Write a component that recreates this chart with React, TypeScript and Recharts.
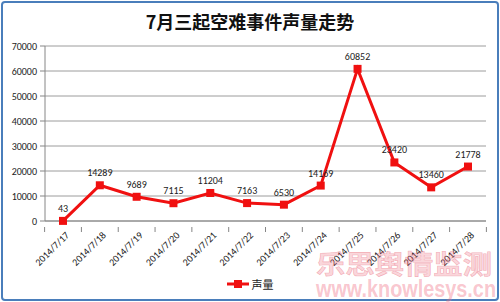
import { LineChart, Line, XAxis, YAxis, CartesianGrid, LabelList } from 'recharts';

const dates = [
  '2014/7/17', '2014/7/18', '2014/7/19', '2014/7/20', '2014/7/21', '2014/7/22',
  '2014/7/23', '2014/7/24', '2014/7/25', '2014/7/26', '2014/7/27', '2014/7/28',
];
const volume = [43, 14289, 9689, 7115, 11204, 7163, 6530, 14169, 60852, 23420, 13460, 21778];
const yTicks = [0, 10000, 20000, 30000, 40000, 50000, 60000, 70000];

const data = dates.map((d, i) => ({ date: d, value: volume[i] }));

const RED = '#f01010';
const AXIS = '#868686';
const font = 'Calibri, Carlito, "Liberation Sans", "Noto Sans CJK SC", sans-serif';
const HALF_BAND = 18.4;

const DateTick = (props: any) => {
  const { x, y, payload, index } = props;
  return (
    <g>
      <line x1={x - HALF_BAND} y1={y - 2} x2={x - HALF_BAND} y2={y + 3} stroke={AXIS} />
      {index === dates.length - 1 && (
        <line x1={x + HALF_BAND} y1={y - 2} x2={x + HALF_BAND} y2={y + 3} stroke={AXIS} />
      )}
      <g transform={`translate(${x + 4},${y + 4})`}>
        <text transform="rotate(-45)" textAnchor="end" dy={4} fontSize={10} fill="#222" fontFamily={font}>
          {payload.value}
        </text>
      </g>
    </g>
  );
};

const SquareDot = (props: any) => {
  const { cx, cy } = props;
  return <rect x={cx - 4} y={cy - 4} width={8} height={8} fill={RED} />;
};

export default function App() {
  return (
    <div style={{ position: 'absolute', left: 0, top: 0, width: 500, height: 302, background: '#fff' }}>
      <div
        style={{
          position: 'absolute', left: 1, top: 1, width: 494, height: 296,
          border: '2px solid #4a7ebb', borderRadius: 4,
        }}
      />
      <div
        style={{
          position: 'absolute', left: 0, top: 8, width: 500, textAlign: 'center',
          fontFamily: '"Noto Sans CJK SC", sans-serif', fontWeight: 'bold', fontSize: 18, color: '#111',
        }}
      >
        7月三起空难事件声量走势
      </div>
      <LineChart
        width={500}
        height={302}
        data={data}
        margin={{ top: 46, right: 14, bottom: 31, left: 0 }}
      >
        <CartesianGrid vertical={false} stroke="#9c9c9c" />
        <XAxis
          dataKey="date"
          height={50}
          interval={0}
          padding={{ left: 18, right: 18 }}
          stroke={AXIS}
          tickLine={false}
          tick={<DateTick />}
        />
        <YAxis
          width={45}
          domain={[0, 70000]}
          ticks={yTicks}
          interval={0}
          stroke={AXIS}
          tickSize={5}
          tickMargin={3}
          tick={{ fontSize: 10, fill: '#222', fontFamily: font }}
        />
        <Line
          type="linear"
          dataKey="value"
          name="声量"
          stroke={RED}
          strokeWidth={3}
          dot={<SquareDot />}
          activeDot={false}
          isAnimationActive={false}
        >
          <LabelList dataKey="value" position="top" offset={9} fontSize={10} fill="#222" fontFamily={font} />
        </Line>
      </LineChart>
      <div
        style={{
          position: 'absolute', left: 0, top: 276, width: 500, display: 'flex',
          alignItems: 'center', justifyContent: 'center', color: '#222',
        }}
      >
        <svg width={22} height={10}>
          <line x1={0} y1={5} x2={22} y2={5} stroke={RED} strokeWidth={3} />
          <rect x={7} y={1} width={8} height={8} fill={RED} />
        </svg>
        <span style={{ marginLeft: 3, fontFamily: '"Noto Sans CJK SC", sans-serif', fontSize: 11 }}>声量</span>
      </div>
      <svg width={500} height={302} style={{ position: 'absolute', left: 0, top: 0, pointerEvents: 'none' }}>
        <text
          x={316} y={274} textLength={176} lengthAdjust="spacingAndGlyphs"
          fontSize={26} fontWeight="bold" fontFamily='"Noto Sans CJK SC", sans-serif'
          fill="rgba(240,110,130,0.3)" stroke="rgba(230,90,110,0.4)" strokeWidth={0.6}
        >
          乐思舆情监测
        </text>
        <text
          x={316} y={297} textLength={180} lengthAdjust="spacingAndGlyphs"
          fontSize={23} fontWeight="bold" fontFamily='"Liberation Sans", sans-serif'
          fill="rgba(240,110,130,0.4)"
        >
          www.knowlesys.cn
        </text>
      </svg>
    </div>
  );
}
